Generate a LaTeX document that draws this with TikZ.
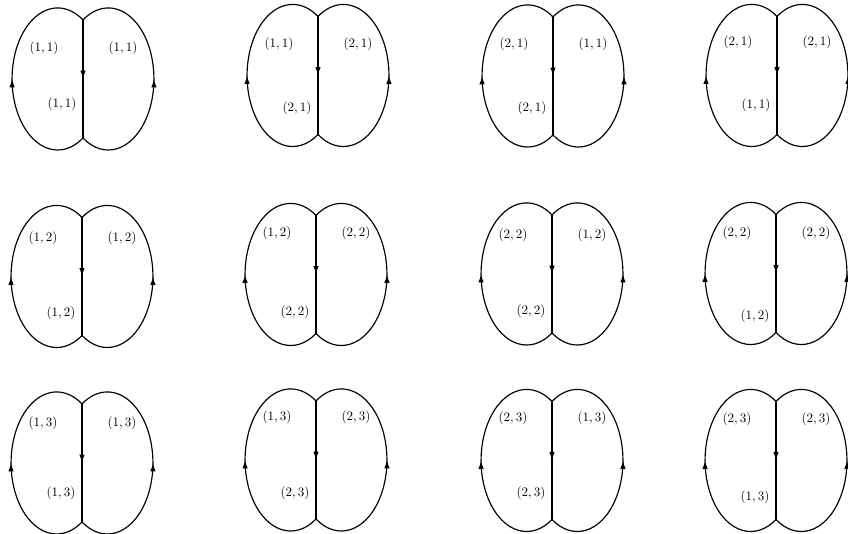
\documentclass[tikz,border=0pt]{standalone}
\usetikzlibrary{arrows.meta,decorations.markings}
\tikzset{
  edge/.style={line width=0.9pt, postaction={decorate},
    decoration={markings, mark=at position 0.5 with {\arrow{Latex[length=6.5pt,width=4.2pt]}}}},
  lobe/.style={x radius=35.1pt, y radius=54.7pt},
  lab/.style={inner sep=1pt}
}
\begin{document}
\begin{tikzpicture}[x=0.77pt,y=0.77pt]
    \useasboundingbox (0,0) rectangle (848,533);
    % centre / row / labels / label heights
    \foreach \cx/\cy/\j/\ia/\ib/\ic/\uy/\my [count=\k] in {
        83/454/1/1/1/1/31/25, 318/457.5/1/1/2/2/31/32.5,
        553/457/1/2/1/2/32/32, 777/457.5/1/2/2/1/33.5/29.5,
        82/256.5/2/1/1/1/38/36.5, 316/258.5/2/1/2/2/41/37.5,
        552/259/2/2/1/2/39/37, 776/259.5/2/2/2/1/40.5/42.5,
        82/70/3/1/1/1/40/30, 316/73/3/1/2/2/43/33,
        552/72.5/3/2/1/2/42/32.5, 776/72.5/3/2/2/1/41.5/36.5}
    {
        \begin{scope}[shift={(\cx,\cy)}]
            \coordinate (t\k) at (0,59);
            \coordinate (b\k) at (0,-59);
            % left and right lobes, both run upwards
            \draw[edge] (b\k) arc[lobe, start angle=-56.2, end angle=-303.8];
            \draw[edge] (b\k) arc[lobe, start angle=-123.8, end angle=123.8];
            \draw[edge] (t\k) -- (b\k);
            \node[lab] (la\k) at (-39,\uy) {$(\ia,\j)$};
            \node[lab] (lb\k) at (40,\uy) {$(\ib,\j)$};
            \node[lab] (lc\k) at (-21,-\my) {$(\ic,\j)$};
        \end{scope}
    }
\end{tikzpicture}
\end{document}
